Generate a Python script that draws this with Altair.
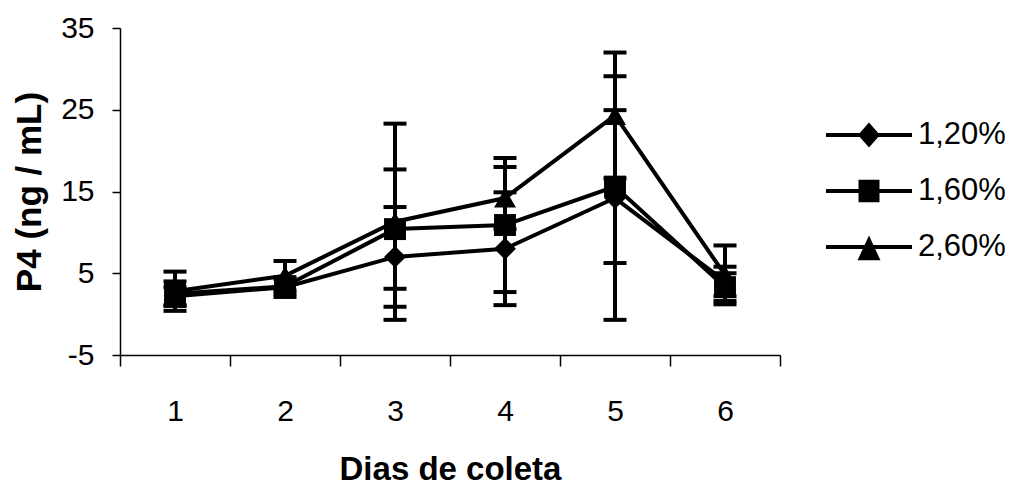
import altair as alt
import pandas as pd

# ---- data ----
dias = ["1", "2", "3", "4", "5", "6"]
series = ["1,20%", "1,60%", "2,60%"]
media_120 = [2.2, 3.3, 7.0, 8.0, 14.2, 4.0]
erro_120 = [1.1, 1.2, 6.1, 6.9, 14.9, 1.8]
media_160 = [2.5, 3.4, 10.4, 10.9, 15.6, 3.3]
erro_160 = [1.5, 0.9, 7.3, 8.2, 9.35, 1.7]
media_260 = [2.8, 4.7, 11.3, 14.2, 24.3, 4.8]
erro_260 = [2.4, 1.8, 12.0, 3.8, 7.7, 3.6]
y_ticks = [-5, 5, 15, 25, 35]

rows = []
for s, med, err in zip(series, [media_120, media_160, media_260], [erro_120, erro_160, erro_260]):
    for d, m, e in zip(dias, med, err):
        rows.append({"dia": d, "serie": s, "media": m, "lo": m - e, "hi": m + e})
df = pd.DataFrame(rows)

FONT = "Liberation Sans"
BLACK = "#000000"

x_axis = alt.Axis(
    title="Dias de coleta", labelAngle=0, tickBand="extent", tickSize=11, tickWidth=1.5,
    domainWidth=1.5, domainColor=BLACK, tickColor=BLACK, labelFontSize=30, labelFont=FONT,
    labelColor=BLACK, labelPadding=54, labelBaseline="alphabetic", titleFontSize=33,
    titleFont=FONT, titleFontWeight="bold", titleColor=BLACK, titleY=124,
    titleBaseline="alphabetic", grid=False,
)
y_axis = alt.Axis(
    title="P4 (ng / mL)", values=y_ticks, tickSize=8, tickWidth=1.5, domainWidth=1.5,
    domainColor=BLACK, tickColor=BLACK, labelFontSize=30, labelFont=FONT, labelColor=BLACK,
    labelPadding=18, labelExpr="'' + datum.value", titleFontSize=35, titleFont=FONT,
    titleFontWeight="bold", titleColor=BLACK, titleX=-80, titleBaseline="alphabetic",
    grid=False,
)
x_scale = alt.Scale(type="band", paddingInner=0, paddingOuter=0)
y_scale = alt.Scale(domain=[-5, 35], nice=False, zero=False)


def X():
    return alt.X("dia:O", scale=x_scale, axis=x_axis, sort=dias)


def Y(field):
    return alt.Y(field, type="quantitative", scale=y_scale, axis=y_axis)


base = alt.Chart(df)

err_rules = base.mark_rule(color=BLACK, strokeWidth=4).encode(
    x=X(), y=Y("lo"), y2="hi:Q"
)
caps_lo = base.mark_tick(color=BLACK, thickness=4, size=23, opacity=1).encode(
    x=X(), y=Y("lo")
)
caps_hi = base.mark_tick(color=BLACK, thickness=4, size=23, opacity=1).encode(
    x=X(), y=Y("hi")
)
lines = base.mark_line(color=BLACK, strokeWidth=4).encode(
    x=X(), y=Y("media"), detail="serie:N"
)
points = base.mark_point(filled=True, color=BLACK, opacity=1, size=480).encode(
    x=X(), y=Y("media"),
    shape=alt.Shape("serie:N", scale=alt.Scale(domain=series, range=["diamond", "square", "triangle-up"]), legend=None),
)

# legend symbols: a line with the marker on it (filled shapes only)
LINE = "M-1,-0.047H1V0.047H-1Z"
legend_paths = [
    LINE + "M0,-0.29L0.256,0L0,0.29L-0.256,0Z",
    LINE + "M-0.244,-0.264H0.244V0.264H-0.244Z",
    LINE + "M0,-0.265L0.267,0.31H-0.267Z",
]
legend_layer = base.mark_point(filled=True, color=BLACK, opacity=0, size=7396).encode(
    x=X(), y=Y("media"),
    shape=alt.Shape(
        "serie:N",
        scale=alt.Scale(domain=series, range=legend_paths),
        legend=alt.Legend(
            title=None, orient="none", legendX=705, legendY=79, padding=0,
            symbolSize=7396, symbolFillColor=BLACK, symbolOpacity=1,
            clipHeight=56, rowPadding=0, labelFontSize=31, labelFont=FONT,
            labelColor=BLACK, labelOffset=5, labelLimit=300,
        ),
    ),
)

chart = alt.layer(err_rules, caps_lo, caps_hi, lines, points, legend_layer).resolve_scale(
    shape="independent"
).properties(
    width=660, height=327,
    autosize=alt.AutoSizeParams(type="none"),
    padding={"left": 112, "top": 20, "right": 225, "bottom": 131},
    background="white",
).configure_view(stroke=None)

chart.save("out.html", embed_options={"renderer": "svg", "actions": False})
